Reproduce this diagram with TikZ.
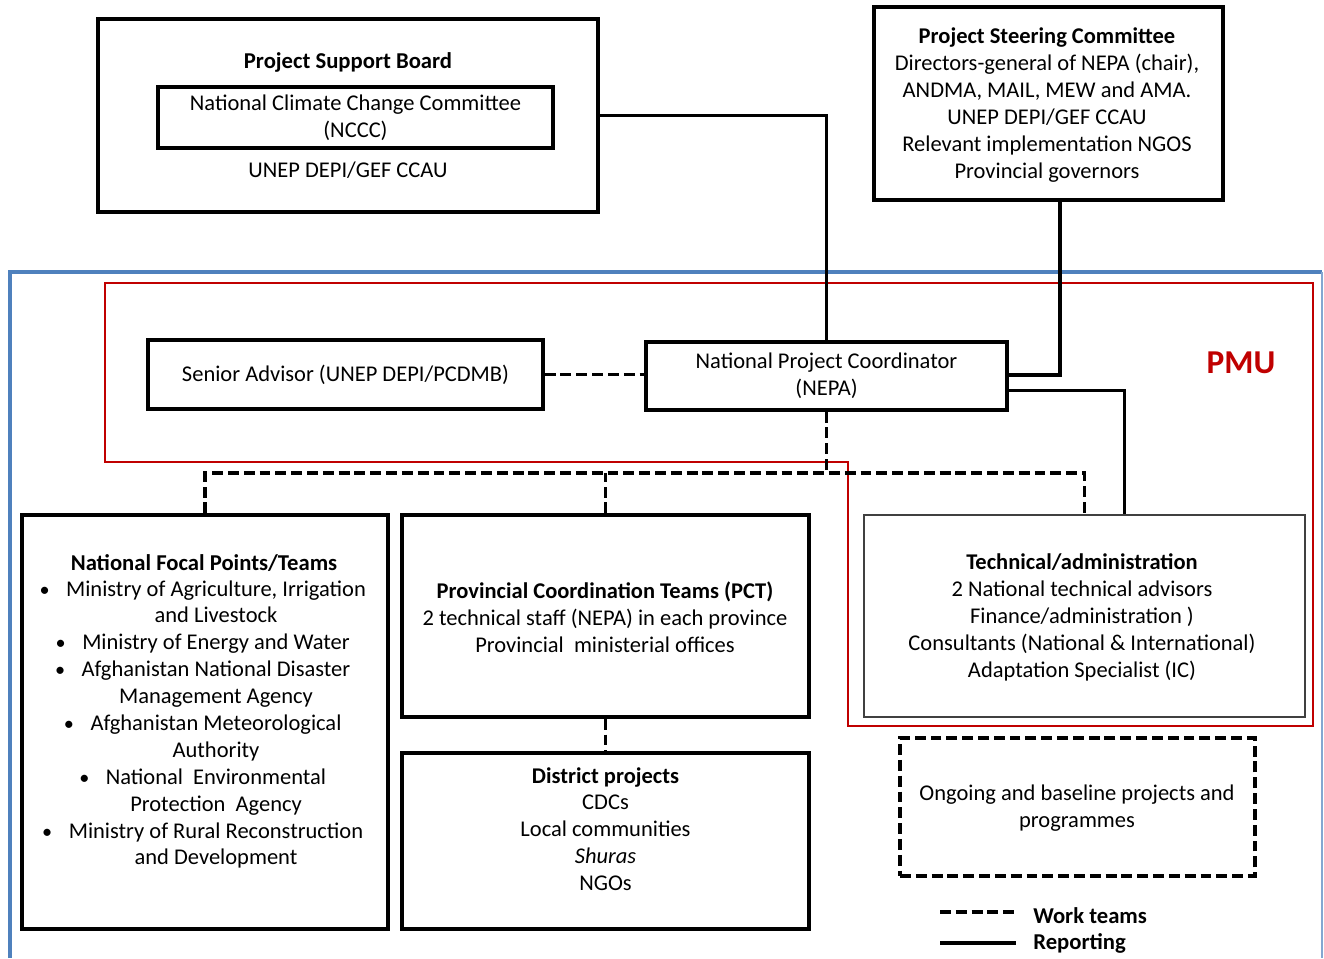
\documentclass[tikz,border=0pt]{standalone}
\usepackage{fontspec}
\setmainfont{Carlito}
\usetikzlibrary{positioning}
\definecolor{PmuRed}{HTML}{C00000}
\definecolor{FrameBlue}{HTML}{4F81BD}
\newcommand{\bul}{\llap{{\fontsize{11.5}{13}\selectfont\textbullet}\hspace{3.3mm}}}

\begin{document}
\begin{tikzpicture}[
  x=0.2mm, y=-0.2mm,
  every node/.style={font=\fontsize{12.8}{15.3}\selectfont},
  orgbox/.style={draw, line width=1.9pt, align=center, inner sep=0pt},
  thinbox/.style={orgbox, draw=black!75, line width=0.9pt},
  dashbox/.style={orgbox, dash pattern=on 6.2pt off 2.8pt},
  txt/.style={align=center, inner sep=0pt},
  boldtxt/.style={txt, font=\fontsize{12.9}{15.3}\selectfont\bfseries},
  report/.style={line width=1.9pt},
  work/.style={line width=2pt, dash pattern=on 6.2pt off 2.8pt}
]
\useasboundingbox (0,0) rectangle (1324,958);

% frames
\draw[FrameBlue, line width=2pt] (10,958) -- (10,272) -- (1322,272);
\draw[FrameBlue!70, line width=1.2pt] (1322,272) -- (1322,958);
\draw[PmuRed, line width=1.4pt] (105,283) -- (1313,283) -- (1313,726) -- (848,726)
  -- (848,462) -- (105,462) -- cycle;
\node[font=\fontsize{19}{22}\selectfont\bfseries, text=PmuRed] (pmu) at (1241,363) {PMU};

% top boards
\node[orgbox, minimum width=100mm, minimum height=38.6mm] (psb) at (348,115.5) {};
\node[boldtxt] (psbtitle) at (348,62) {Project Support Board};
\node[orgbox, minimum width=79mm, minimum height=12.2mm] (nccc) at (355.5,117.5)
  {National Climate Change Committee\\(NCCC)};
\node[txt] (psbunep) at (348,170) {UNEP DEPI/GEF CCAU};

\node[orgbox, minimum width=69.8mm, minimum height=38.6mm] (psc) at (1048.5,103.5) {};
\node[txt] (psctxt) at (1047,105)
  {\textbf{Project Steering Committee}\\Directors-general of NEPA (chair),\\ANDMA, MAIL, MEW and AMA.\\
   UNEP DEPI/GEF CCAU\\Relevant implementation\ NGOS\\Provincial governors};

% PMU
\node[orgbox, minimum width=79mm, minimum height=13.8mm] (senior) at (345.5,374.5)
  {Senior Advisor (UNEP DEPI/PCDMB)};
\node[orgbox, minimum width=72.2mm, minimum height=13.6mm] (npc) at (826.5,376)
  {National Project Coordinator\\(NEPA)};
\node[thinbox, minimum width=88.2mm, minimum height=40.4mm] (tech) at (1084.5,616) {};
\node[txt] (techtxt) at (1082,617.5)
  {\textbf{Technical/administration}\\2 National technical advisors\\Finance/administration )\\
   Consultants (National \& International)\\Adaptation Specialist (IC)};

% teams
\node[orgbox, minimum width=73.2mm, minimum height=82.8mm] (nfp) at (205,722) {};
\node[boldtxt] (nfptitle) at (204,563) {National Focal Points/Teams};
\node[txt] (nfplist) at (216,724.5)
  {\bul Ministry of Agriculture, Irrigation\\and Livestock\\
   \bul Ministry of Energy and Water\\
   \bul Afghanistan National Disaster\\Management\ Agency\\
   \bul Afghanistan Meteorological\\Authority\\
   \bul National\ \ Environmental\\Protection\ \ Agency\\
   \bul Ministry of Rural Reconstruction\\and Development};

\node[orgbox, minimum width=81.4mm, minimum height=40.4mm] (pct) at (605.5,616) {};
\node[txt] (pcttxt) at (605,617)
  {\textbf{Provincial Coordination Teams (PCT)}\\2 technical staff (NEPA) in each province\\
   Provincial\ \ ministerial offices};
\node[orgbox, minimum width=81.4mm, minimum height=35.2mm] (district) at (605.5,841) {};
\node[txt] (districttxt) at (605.5,829)
  {\textbf{District projects}\\CDCs\\Local communities\\\textit{Shuras}\\NGOs};

\node[dashbox, minimum width=71mm, minimum height=27.6mm] (ongoing) at (1077.5,807) {};
\node[txt] (ongoingtxt) at (1077,808) {Ongoing and baseline projects and\\programmes};

% reporting lines
\draw[report] (psb.east) -| (npc.north);
\draw[report] ([xshift=2.3mm]psc.south) |- ([yshift=0.2mm]npc.east);
\draw[line width=1.7pt] ([yshift=-2.8mm]npc.east) -| ([xshift=7.9mm]tech.north);

% work teams
\coordinate (split) at (826.5,473);
\draw[work] (senior.east) -- (senior.east -| npc.west);
\draw[work] (npc.south) -- (split);
\draw[work] (nfp.north) |- (split) -| (tech.north);
\draw[work] (pct.north) -- (pct.north |- split);
\draw[work] (pct.south) -- (district.north);

% legend
\node[boldtxt, anchor=west] (lgwork) at (1033,916) {Work teams};
\node[boldtxt, anchor=west] (lgreport) at (1033,943) {Reporting};
\coordinate (lgworkstart) at (940,912);
\coordinate (lgreportstart) at (940,943);
\draw[work] (lgworkstart) -- (lgworkstart -| 1016,0);
\draw[report] (lgreportstart) -- (lgreportstart -| 1016,0);
\end{tikzpicture}
\end{document}
